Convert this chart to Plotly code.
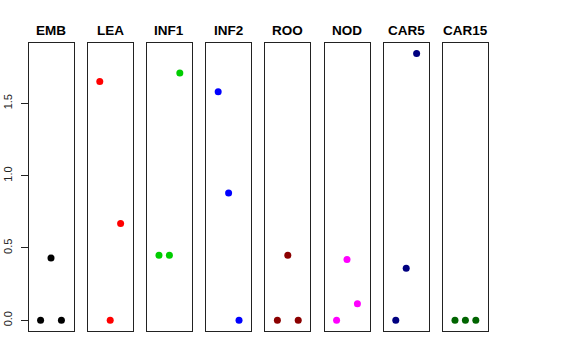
import plotly.graph_objects as go

panels = ["EMB", "LEA", "INF1", "INF2", "ROO", "NOD", "CAR5", "CAR15"]
colors = ["#000000", "#FF0000", "#00CD00", "#0000FF", "#8B0000", "#FF00FF", "#000080", "#006400"]
positions = [1, 2, 3]
EMB = [0.0, 0.43, 0.0]
LEA = [1.65, 0.0, 0.67]
INF1 = [0.45, 0.45, 1.71]
INF2 = [1.58, 0.88, 0.0]
ROO = [0.0, 0.45, 0.0]
NOD = [0.0, 0.42, 0.115]
CAR5 = [0.0, 0.36, 1.845]
CAR15 = [0.0, 0.0, 0.0]
values = [EMB, LEA, INF1, INF2, ROO, NOD, CAR5, CAR15]
y_ticks = [0.0, 0.5, 1.0, 1.5]
y_ticktext = ["0.0", "0.5", "1.0", "1.5"]

W, H = 576, 360
left0, step, pw = 28.5, 59.2, 45.0
top_px, bot_px = 42.7, 331.0
title_px = 30
ymax = max(max(v) for v in values)
ymin = 0.0
pad = (ymax - ymin) * 0.04
yrange = [ymin - pad, ymax + pad]
xrange = [0 - 0.16, 4 + 0.16]

fig = go.Figure()
annotations = []
for i, (name, col, vals) in enumerate(zip(panels, colors, values)):
    n = "" if i == 0 else str(i + 1)
    x0 = (left0 + i * step) / W
    x1 = (left0 + i * step + pw) / W
    fig.add_trace(go.Scatter(x=positions, y=vals, mode="markers",
                             marker=dict(color=col, size=7, line=dict(width=0)),
                             xaxis="x" + n, yaxis="y" + n, showlegend=False,
                             cliponaxis=False))
    fig.layout["xaxis" + n] = dict(domain=[x0, x1], range=xrange, showgrid=False,
                                   zeroline=False, showticklabels=False, ticks="",
                                   showline=True, mirror=True, linecolor="#222222",
                                   linewidth=1, anchor="y" + n, fixedrange=True,
                                   automargin=False)
    ya = dict(domain=[1 - bot_px / H, 1 - top_px / H], range=yrange, showgrid=False,
              zeroline=False, showline=True, mirror=True, linecolor="#222222",
              linewidth=1, anchor="x" + n, fixedrange=True, automargin=False)
    if i == 0:
        ya.update(tickmode="array", tickvals=y_ticks, ticktext=y_ticktext,
                  ticks="outside", ticklen=7, tickcolor="#222222", tickwidth=1,
                  tickangle=-90, tickfont=dict(family="Liberation Sans", size=11, color="#222222"),
                  ticklabelstandoff=4)
    else:
        ya.update(showticklabels=False, ticks="")
    fig.layout["yaxis" + n] = ya
    annotations.append(dict(text="<b>" + name + "</b>", x=(x0 + x1) / 2, y=1 - title_px / H,
                            xref="paper", yref="paper", showarrow=False,
                            xanchor="center", yanchor="middle",
                            font=dict(family="Liberation Sans", size=13.5, color="#000000")))

fig.update_layout(width=W, height=H, autosize=False,
                  margin=dict(l=0, r=0, t=0, b=0, autoexpand=False),
                  paper_bgcolor="white", plot_bgcolor="white",
                  annotations=annotations)
fig.write_html("out.html", config={"displayModeBar": False, "staticPlot": True},
               post_script="document.body.style.margin='0px';document.body.style.overflow='hidden';")
